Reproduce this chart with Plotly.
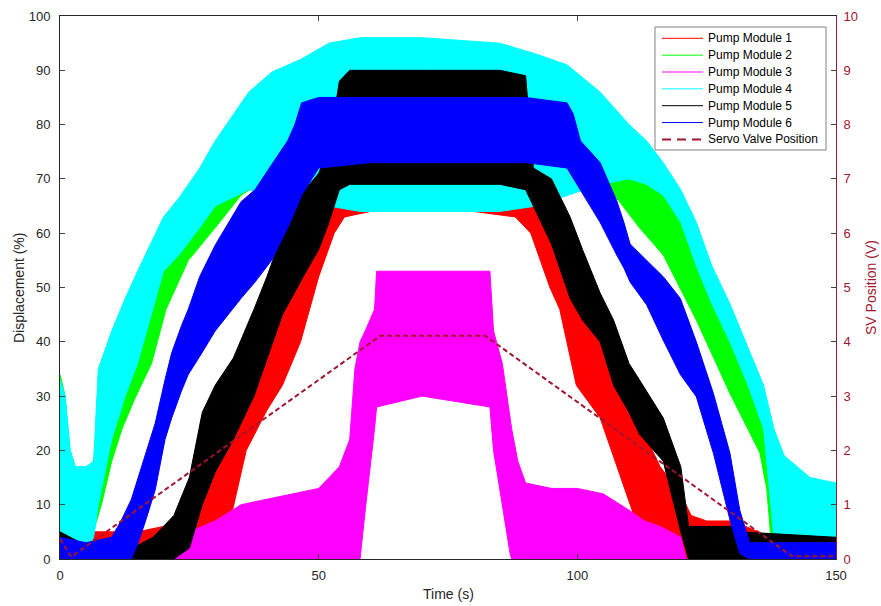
import plotly.graph_objects as go

# ---- data (band envelopes: lower / upper, in %) ----
names = ["Pump Module 1", "Pump Module 2", "Pump Module 3",
         "Pump Module 4", "Pump Module 5", "Pump Module 6"]
colors = ["#FF0000", "#00FF00", "#FF00FF", "#00FFFF", "#000000", "#0000FF"]

m1_t = [0, 5, 10, 15, 20, 25, 28, 31, 33.5, 36, 40, 43, 46.5, 50, 53, 55, 60, 70, 80, 88, 91, 94.7, 96.6, 99.8, 104.4, 107.6, 110.8, 113, 116, 120, 122, 125, 130, 135, 140, 145, 150]
m1_hi = [3, 5, 5, 5, 6, 9, 13, 20, 24, 32, 44, 50, 56, 62, 67, 70, 71, 71, 71, 70, 68, 62, 58, 50, 40, 33, 27, 23, 17, 12, 8, 7, 7, 5, 3, 2, 2]
m1_lo = [0, 0, 0, 0, 0, 0, 0, 1, 9.6, 20, 27.4, 32, 40, 52, 60, 63, 64, 64, 64, 63, 60, 50, 46, 32, 26, 17, 8.4, 4.8, 1, 0, 0, 0, 0, 0, 0, 0, 0]

m2_t = [0, 1, 2, 5.5, 8, 10, 12, 14.5, 17.7, 20.5, 24.8, 27.4, 30, 35, 40, 50, 70, 90, 100, 104, 108, 112, 116.6, 123, 129.5, 135.3, 136.6, 137.5, 140, 145, 150]
m2_hi = [34, 30, 15, 12, 28, 35, 42, 48, 55, 60, 65, 70, 74, 78, 82, 88, 88, 88, 85, 80, 76, 72, 68, 58, 45, 33, 26, 18, 10, 6, 5]
m2_lo = [0, 0, 0, 2, 10, 18, 24, 29.6, 36, 46, 55, 58, 61, 67, 70, 72, 72, 72, 72, 70, 66, 61, 56, 44, 30.5, 19.5, 13, 3, 0, 0, 0]

m3_t = [0, 1.5, 3, 5, 10, 15, 20, 23, 25, 27.5, 30, 35, 40, 45, 50, 54, 56, 57, 58, 59, 60.8, 61.2, 70, 83.1, 83.8, 85.5, 87, 87.3, 88.5, 90, 95, 100, 105, 110, 113, 116, 120, 121, 125, 150]
m3_hi = [9, 8, 4, 2, 2, 2, 2, 3, 5, 6, 7, 10, 11, 12, 13, 17, 22, 35, 40, 42, 46, 53, 53, 53, 42, 36, 26, 24, 18, 14, 13, 13, 12, 9, 7, 6, 4, 0, 0, 0]
m3_lo = [0, 0, 0, 0, 0, 0, 0, 0, 0, 0, 0, 0, 0, 0, 0, 0, 0, 0, 0, 9, 24, 28, 30, 28, 20, 10, 1, 0, 0, 0, 0, 0, 0, 0, 0, 0, 0, 0, 0, 0]

m4_t = [0, 1, 2, 3, 5, 6.5, 7.4, 10, 12.6, 15, 20, 23, 27, 30, 36.5, 41, 46.5, 52, 58, 70, 85, 92, 98, 104.4, 110, 113.4, 116.6, 120, 123, 126, 129.5, 133, 136, 138, 140, 145, 150]
m4_hi = [33, 30, 20, 17, 17, 18, 35, 42, 48, 53, 63, 66.5, 72, 77, 86, 89.7, 92, 95, 96, 96, 95, 93, 91, 86, 80, 77, 73, 68, 62, 54, 47, 39, 32, 24, 19, 15, 14]
m4_lo = [2, 1, 1, 1, 1, 4, 10, 22, 30, 36, 53, 56, 61, 65, 68, 67, 66, 65, 64, 64, 64, 65, 67, 69, 70, 69, 67, 62, 54, 47, 40, 32, 24, 4, 2, 2, 2]

m5_t = [0, 2, 4, 10, 14, 18, 22, 25, 27.5, 30, 33.5, 37.5, 40, 43, 47, 50, 52, 54, 56, 70, 85, 90, 91.5, 95, 98.6, 101, 104.4, 107, 110, 112, 116.6, 120, 121.5, 125, 130, 131.5, 150]
m5_hi = [5, 4, 3, 2, 2, 4, 8, 15, 27, 32, 37, 46, 52, 60, 67.6, 71, 76, 88, 90, 90, 90, 89, 72, 70, 63, 57, 49, 44, 36, 33, 26, 17, 6, 6, 6, 5, 4]
m5_lo = [0, 0, 0, 0, 0, 0, 0, 2, 10, 16, 22, 30, 37, 45, 52, 57, 62, 68, 69, 69, 69, 68, 65, 58, 48, 44, 40, 32, 27, 23, 18, 5, 0, 0, 0, 0, 0]

m6_t = [0, 5, 10, 11.9, 13.8, 15.1, 16.4, 18.4, 20.3, 21.6, 23.5, 24.8, 27, 30, 35, 37.7, 40.9, 44, 45.4, 46.7, 50, 60, 70, 80, 90, 98, 99.2, 100.6, 102.5, 104.4, 107.6, 109, 110.2, 113.4, 116.6, 119.9, 123, 126.3, 129.5, 131.4, 133.3, 135, 140, 150]
m6_hi = [4, 3, 4, 7.2, 11, 15, 19, 25, 33, 38, 43, 46, 52, 57.8, 65.8, 68, 72.6, 77, 80, 84, 85, 85, 85, 85, 85, 84, 82, 77, 75, 73, 66, 62, 58, 55, 52, 48, 40, 30.5, 19.5, 9, 3, 3, 3, 3]
m6_lo = [0, 0, 0, 0, 0, 3, 6.6, 12.7, 22, 26, 31, 34, 37.3, 42, 48, 51, 55, 61, 64, 67, 72, 73, 73, 73, 73, 72, 70, 68, 65, 62, 56, 53.6, 51, 46.8, 40.3, 34, 29.9, 19.5, 7.2, 1, 0, 0, 0, 0]

sv_t = [0, 2.2, 61.9, 82.2, 141.5, 150]
sv_v = [0.37, 0.04, 4.11, 4.11, 0.05, 0.05]
sv_name = "Servo Valve Position"

series = [(m1_t, m1_lo, m1_hi), (m2_t, m2_lo, m2_hi), (m3_t, m3_lo, m3_hi),
          (m4_t, m4_lo, m4_hi), (m5_t, m5_lo, m5_hi), (m6_t, m6_lo, m6_hi)]

SV_COLOR = "#A2142F"
AX_COLOR = "#262626"
FONT = "Liberation Sans, Arial, sans-serif"

W, H = 881, 606
L, R, T, B = 60, 836, 16, 559   # plot area in pixels


def px(x):
    return (x - L) / (R - L)


def py(y):
    return (B - y) / (B - T)


fig = go.Figure()
for name, col, (t, lo, hi) in zip(names, colors, series):
    fig.add_trace(go.Scatter(
        x=list(t) + list(t)[::-1], y=list(hi) + list(lo)[::-1],
        mode="lines", fill="toself", fillcolor=col,
        line=dict(color=col, width=1), name=name, showlegend=False,
        hoverinfo="skip"))
fig.add_trace(go.Scatter(x=sv_t, y=sv_v, mode="lines", name=sv_name, showlegend=False,
                         yaxis="y2", line=dict(color=SV_COLOR, width=2, dash="5px,3px")))

# ---- legend drawn as a box with line samples and text ----
shapes = [dict(type="rect", xref="paper", yref="paper",
               x0=px(655), x1=px(826), y0=py(150), y1=py(27),
               fillcolor="white", line=dict(color="#808080", width=1), layer="above")]
annotations = []
leg_labels = names + [sv_name]
leg_colors = colors + [SV_COLOR]
for i, (lab, col) in enumerate(zip(leg_labels, leg_colors)):
    yy = 38.3 + 16.85 * i
    is_sv = (i == len(names))
    shapes.append(dict(type="line", xref="paper", yref="paper",
                       x0=px(662), x1=px(703), y0=py(yy), y1=py(yy),
                       line=dict(color=col, width=2 if is_sv else 1,
                                 dash="9px,6px" if is_sv else "solid"),
                       layer="above"))
    annotations.append(dict(xref="paper", yref="paper", x=px(706), y=py(yy),
                            text=lab, showarrow=False, xanchor="left", yanchor="middle",
                            font=dict(family=FONT, size=12, color="#000000")))

# ---- axis titles ----
annotations.append(dict(xref="paper", yref="paper", x=px(448), y=py(594), text="Time (s)",
                        showarrow=False, xanchor="center", yanchor="middle",
                        font=dict(family=FONT, size=14, color=AX_COLOR)))
annotations.append(dict(xref="paper", yref="paper", x=px(19), y=py(288),
                        text="Displacement (%)", textangle=-90, showarrow=False,
                        xanchor="center", yanchor="middle",
                        font=dict(family=FONT, size=14, color=AX_COLOR)))
annotations.append(dict(xref="paper", yref="paper", x=px(871), y=py(288),
                        text="SV Position (V)", textangle=-90, showarrow=False,
                        xanchor="center", yanchor="middle",
                        font=dict(family=FONT, size=14, color=SV_COLOR)))

fig.update_layout(
    width=W, height=H,
    margin=dict(l=L, r=W - R, t=T, b=H - B, autoexpand=False),
    paper_bgcolor="white", plot_bgcolor="white",
    font=dict(family=FONT, size=13, color=AX_COLOR),
    showlegend=False,
    shapes=shapes, annotations=annotations,
    xaxis=dict(range=[0, 150], tickvals=[0, 50, 100, 150], ticks="inside", ticklen=5,
               showline=True, linecolor=AX_COLOR, linewidth=1, mirror="ticks",
               showgrid=False, zeroline=False, automargin=False, ticklabelstandoff=4),
    yaxis=dict(range=[0, 100], dtick=10, ticks="inside", ticklen=5,
               showline=True, linecolor=AX_COLOR, linewidth=1,
               showgrid=False, zeroline=False, automargin=False, ticklabelstandoff=6),
    yaxis2=dict(range=[0, 10], dtick=1, ticks="inside", ticklen=5, overlaying="y",
                side="right", showline=True, linecolor=SV_COLOR, linewidth=1,
                tickfont=dict(color=SV_COLOR), showgrid=False, zeroline=False,
                automargin=False, ticklabelstandoff=4),
)

fig.write_html("out.html", config={"displayModeBar": False},
               post_script="document.body.style.margin='0px';document.body.style.overflow='hidden';")
